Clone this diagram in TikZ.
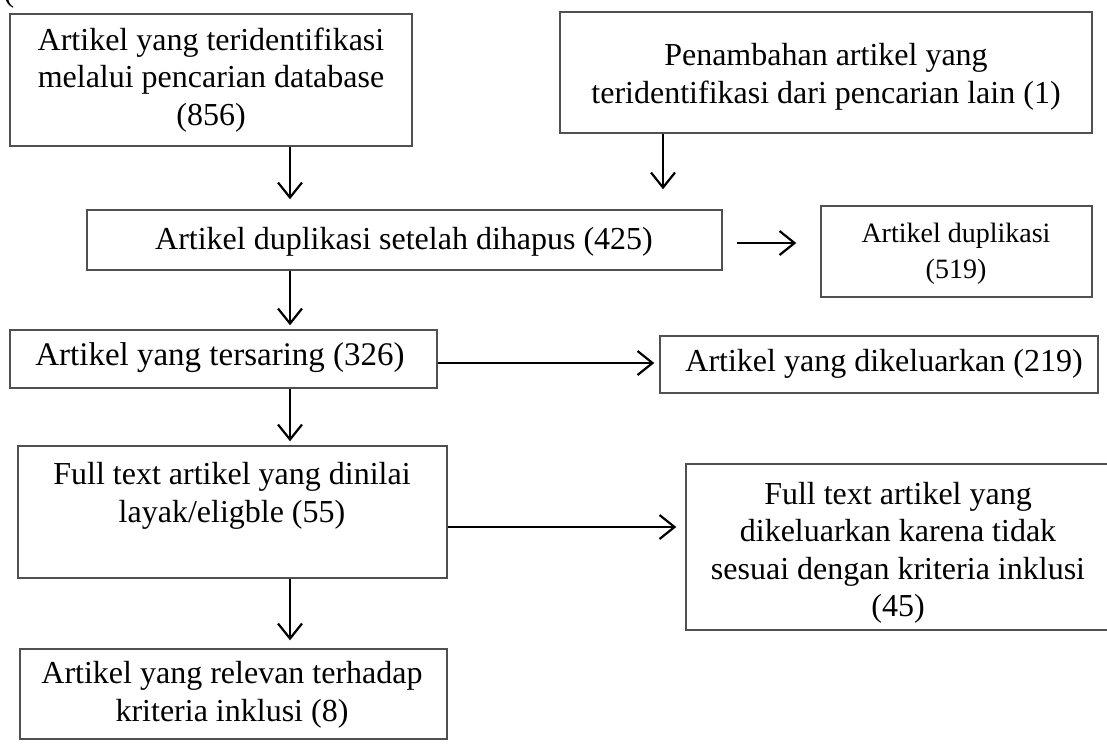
\documentclass[tikz,border=0pt]{standalone}
\usepackage{fontspec}
\setmainfont{Liberation Serif}
\usetikzlibrary{arrows.meta}
\definecolor{boxgray}{RGB}{80,80,80}
\begin{document}
\begin{tikzpicture}[x=1pt,y=-1pt,
  box/.style={draw=boxgray, line width=1.4pt, rectangle, inner sep=0pt},
  txt/.style={align=center, font=\fontsize{32}{37.5}\selectfont, inner sep=0pt},
  bigtxt/.style={align=center, font=\fontsize{33}{38}\selectfont, inner sep=0pt},
  smalltxt/.style={align=center, font=\fontsize{28}{36}\selectfont, inner sep=0pt},
  arr/.style={line width=2.2pt, draw=black,
    -{Straight Barb[length=15pt,width=24pt,line width=2.2pt]}}
]
\useasboundingbox (0,0) rectangle (1107,753);
\clip (0,0) rectangle (1107,753);

% stray parenthesis at top-left
\node[txt, anchor=base] (paren) at (9,1) {(};

% boxes
\node[box, minimum width=402pt, minimum height=132pt] (a) at (211,80) {};
\node[box, minimum width=532pt, minimum height=121pt] (b) at (826,72.5) {};
\node[box, minimum width=635pt, minimum height=60pt] (c) at (404.5,240) {};
\node[box, minimum width=271pt, minimum height=91pt] (d) at (956.5,251.5) {};
\node[box, minimum width=427pt, minimum height=58pt] (e) at (223.5,359) {};
\node[box, minimum width=438pt, minimum height=57pt] (f) at (879,364.5) {};
\node[box, minimum width=429pt, minimum height=132pt] (g) at (232.5,512) {};
\node[box, minimum width=426pt, minimum height=166pt] (h) at (899,547) {};
\node[box, minimum width=427pt, minimum height=90pt] (i) at (233.5,694) {};

% texts
\node[txt] (at) at (211,80) {Artikel yang teridentifikasi\\melalui pencarian database\\(856)};
\node[txt] (bt) at (826,77) {Penambahan artikel yang\\teridentifikasi dari pencarian lain (1)};
\node[txt] (ct) at (404,242) {Artikel duplikasi setelah dihapus (425)};
\node[smalltxt] (dt) at (956,254) {Artikel duplikasi\\(519)};
\node[bigtxt] (et) at (220,358) {Artikel yang tersaring (326)};
\node[txt] (ft) at (884,364) {Artikel yang dikeluarkan (219)};
\node[txt] (gt) at (232,496) {Full text artikel yang dinilai\\layak/eligble (55)};
\node[txt] (ht) at (898,553) {Full text artikel yang\\dikeluarkan karena tidak\\sesuai dengan kriteria inklusi\\(45)};
\node[txt] (it) at (232,695) {Artikel yang relevan terhadap\\kriteria inklusi (8)};

% guide coordinates
\coordinate (lx) at (290,0);
\coordinate (rx) at (663,0);
\coordinate (cy) at (0,243);
\coordinate (ey) at (0,363);
\coordinate (gy) at (0,527);

% connectors
\draw[arr, shorten >=10pt] (a.south -| lx) -- (c.north -| lx);
\draw[arr, shorten >=20pt] (b.south -| rx) -- (c.north -| rx);
\draw[arr, shorten <=14pt, shorten >=24pt] (c.east |- cy) -- (d.west |- cy);
\draw[arr, shorten >=4pt] (c.south -| lx) -- (e.north -| lx);
\draw[arr, shorten >=5pt] (e.east |- ey) -- (f.west |- ey);
\draw[arr, shorten >=4pt] (e.south -| lx) -- (g.north -| lx);
\draw[arr, shorten >=9pt] (g.east |- gy) -- (h.west |- gy);
\draw[arr, shorten >=8pt] (g.south -| lx) -- (i.north -| lx);
\end{tikzpicture}
\end{document}
